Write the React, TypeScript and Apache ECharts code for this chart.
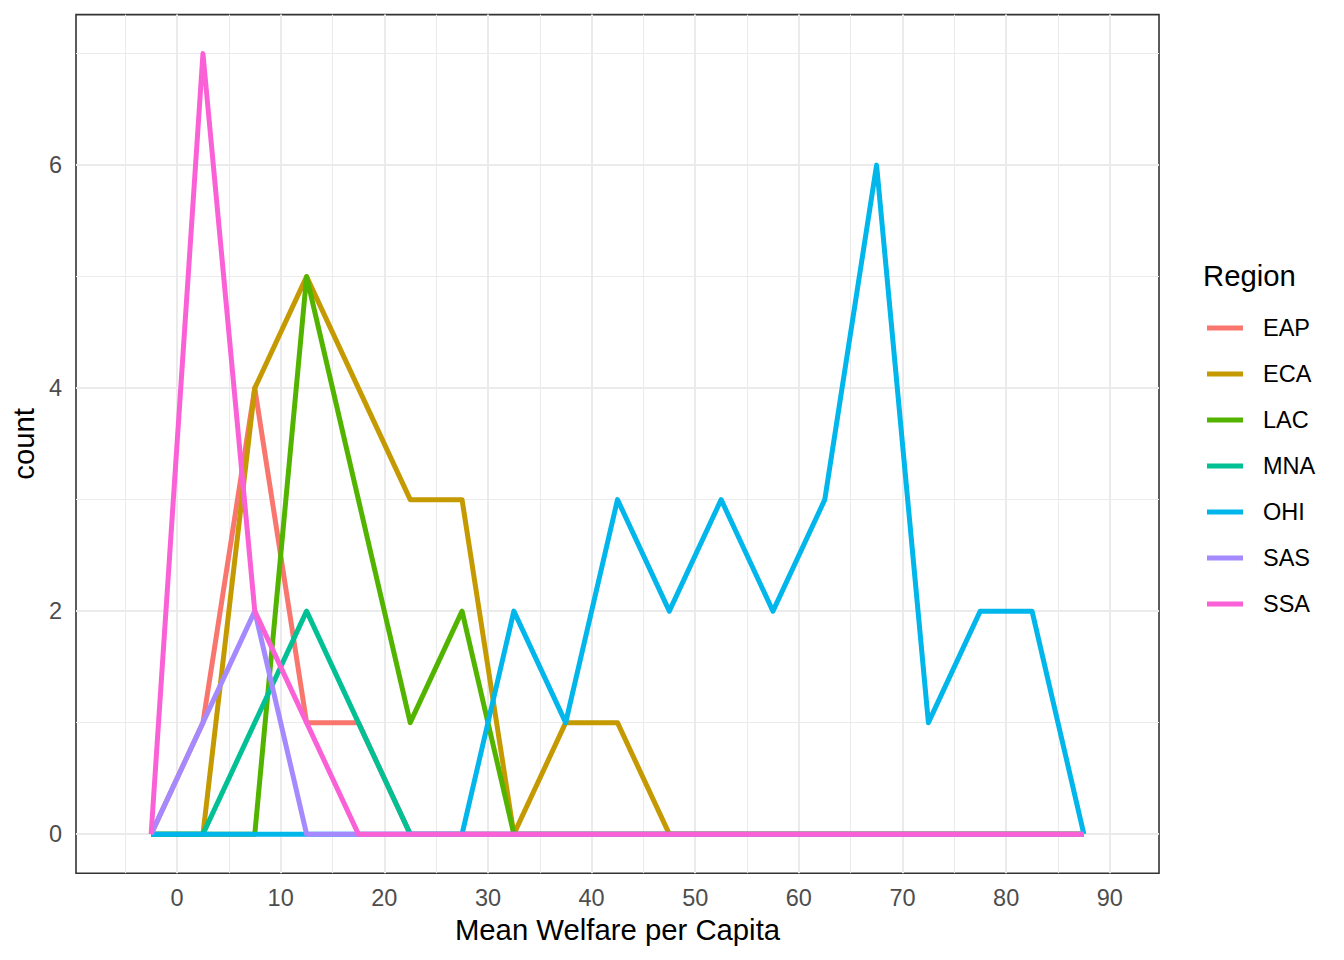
import React, { useEffect, useRef } from "react";
import * as echarts from "echarts";

const binCenters = [-2.5, 2.5, 7.5, 12.5, 17.5, 22.5, 27.5, 32.5, 37.5, 42.5, 47.5, 52.5, 57.5, 62.5, 67.5, 72.5, 77.5, 82.5, 87.5];

const regions = ["EAP", "ECA", "LAC", "MNA", "OHI", "SAS", "SSA"];
const regionColors = ["#F8766D", "#C49A00", "#53B400", "#00C094", "#00B6EB", "#A58AFF", "#FB61D7"];

const countEAP = [0, 1, 4, 1, 1, 0, 0, 0, 0, 0, 0, 0, 0, 0, 0, 0, 0, 0, 0];
const countECA = [0, 0, 4, 5, 4, 3, 3, 0, 1, 1, 0, 0, 0, 0, 0, 0, 0, 0, 0];
const countLAC = [0, 0, 0, 5, 3, 1, 2, 0, 0, 0, 0, 0, 0, 0, 0, 0, 0, 0, 0];
const countMNA = [0, 0, 1, 2, 1, 0, 0, 0, 0, 0, 0, 0, 0, 0, 0, 0, 0, 0, 0];
const countOHI = [0, 0, 0, 0, 0, 0, 0, 2, 1, 3, 2, 3, 2, 3, 6, 1, 2, 2, 0];
const countSAS = [0, 1, 2, 0, 0, 0, 0, 0, 0, 0, 0, 0, 0, 0, 0, 0, 0, 0, 0];
const countSSA = [0, 7, 2, 1, 0, 0, 0, 0, 0, 0, 0, 0, 0, 0, 0, 0, 0, 0, 0];

const regionCounts = [countEAP, countECA, countLAC, countMNA, countOHI, countSAS, countSSA];

const xMajorTicks = [0, 10, 20, 30, 40, 50, 60, 70, 80, 90];
const xMinorTicks = [-5, 5, 15, 25, 35, 45, 55, 65, 75, 85];
const yMajorTicks = [0, 2, 4, 6];
const yMinorTicks = [1, 3, 5, 7];

const FONT = "'Liberation Sans', Arial, Helvetica, sans-serif";

export default function App() {
  const ref = useRef<HTMLDivElement>(null);

  useEffect(() => {
    if (!ref.current) return;
    const chart = echarts.init(ref.current, undefined, { renderer: "svg" });

    const gridLines: any[] = [];
    xMajorTicks.forEach((v) => gridLines.push({ xAxis: v, lineStyle: { width: 2, color: "#ebebeb", type: "solid" } }));
    xMinorTicks.forEach((v) => gridLines.push({ xAxis: v, lineStyle: { width: 1, color: "#ebebeb", type: "solid" } }));
    yMajorTicks.forEach((v) => gridLines.push({ yAxis: v, lineStyle: { width: 2, color: "#ebebeb", type: "solid" } }));
    yMinorTicks.forEach((v) => gridLines.push({ yAxis: v, lineStyle: { width: 1, color: "#ebebeb", type: "solid" } }));

    const lineSeries = regions.map((name, i) => ({
      name,
      type: "line",
      data: binCenters.map((x, j) => [x, regionCounts[i][j]]),
      symbol: "none",
      showSymbol: false,
      z: 3,
      color: regionColors[i],
      lineStyle: { width: 5, color: regionColors[i], join: "round", cap: "butt" },
      emphasis: { disabled: true },
    }));

    chart.setOption({
      animation: false,
      textStyle: { fontFamily: FONT },
      title: {
        text: "Region",
        left: 1203,
        top: 261,
        padding: 0,
        textStyle: { fontFamily: FONT, fontSize: 29.3, fontWeight: "normal", color: "#000000" },
      },
      legend: {
        data: regions,
        orient: "vertical",
        left: 1207,
        top: 316,
        padding: 0,
        itemWidth: 36,
        itemHeight: 5,
        itemGap: 22,
        icon: "rect",
        selectedMode: false,
        textStyle: { fontFamily: FONT, fontSize: 23.5, color: "#000000", lineHeight: 24, padding: [0, 0, 0, 15] },
      },
      grid: {
        left: 76,
        top: 14.6,
        width: 1083,
        height: 858.6,
        show: true,
        borderColor: "#333333",
        borderWidth: 1.6,
        backgroundColor: "transparent",
      },
      xAxis: {
        type: "value",
        min: -9.75,
        max: 94.75,
        name: "Mean Welfare per Capita",
        nameLocation: "middle",
        nameGap: 42,
        nameTextStyle: { fontFamily: FONT, fontSize: 29.3, color: "#000000" },
        axisLine: { show: false },
        axisTick: { show: true, length: 7, customValues: xMajorTicks, lineStyle: { color: "#333333", width: 2 } },
        axisLabel: { customValues: xMajorTicks, fontFamily: FONT, fontSize: 23.5, color: "#4d4d4d", margin: 13 },
        splitLine: { show: false },
      },
      yAxis: {
        type: "value",
        min: -0.35,
        max: 7.35,
        name: "count",
        nameLocation: "middle",
        nameGap: 36,
        nameTextStyle: { fontFamily: FONT, fontSize: 29.3, color: "#000000" },
        axisLine: { show: false },
        axisTick: { show: true, length: 7, customValues: yMajorTicks, lineStyle: { color: "#333333", width: 2 } },
        axisLabel: { customValues: yMajorTicks, fontFamily: FONT, fontSize: 23.5, color: "#4d4d4d", margin: 14 },
        splitLine: { show: false },
      },
      series: [
        {
          name: "__grid",
          type: "line",
          data: [],
          z: 1,
          silent: true,
          markLine: {
            silent: true,
            symbol: ["none", "none"],
            label: { show: false },
            z: 1,
            animation: false,
            data: gridLines,
          },
        },
        ...lineSeries,
      ],
    });

    return () => chart.dispose();
  }, []);

  return (
    <div
      ref={ref}
      style={{ position: "absolute", left: 0, top: 0, width: 1344, height: 960, background: "#ffffff" }}
    />
  );
}
